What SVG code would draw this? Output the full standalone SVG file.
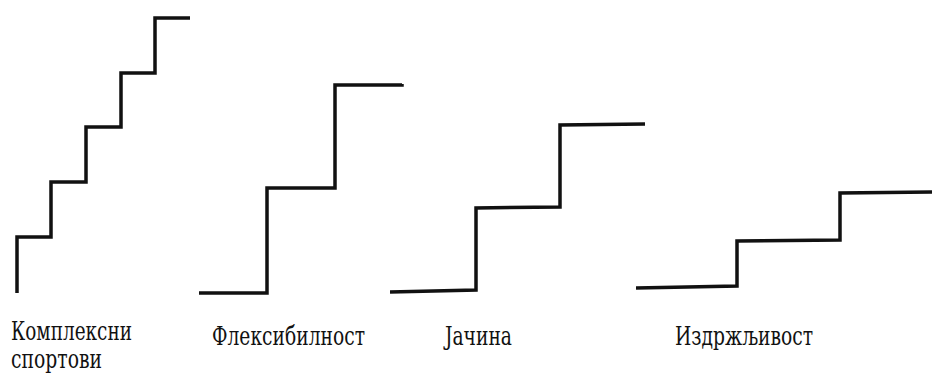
<svg xmlns="http://www.w3.org/2000/svg" width="932" height="374" viewBox="0 0 932 374">
<defs>
<style>
.step{fill:none;stroke:#111;stroke-width:3.5;stroke-linejoin:miter;stroke-linecap:butt}
.lbl{font-family:"DejaVu Serif Condensed","DejaVu Serif","Liberation Serif",serif;font-stretch:condensed;font-size:26px;fill:#111}
</style>
</defs>
<rect width="932" height="374" fill="#fff"/>
<g id="connectors">
<path class="step" d="M17,293 V237 H51 V182 H86 V127 H121 V73 H155 V18 H190"/>
<path class="step" d="M199,293 H267 V188 H335 V85 H402 V84"/>
<path class="step" d="M390,292 L476,290 V208 L560,207 V125 L645,124"/>
<path class="step" d="M636,288 L737,286 V241 L840,240 V193 L932,192"/>
</g>
<g id="label-complex">
<text class="lbl" x="11" y="340" textLength="121" lengthAdjust="spacingAndGlyphs">Комплексни</text>
<text class="lbl" x="11" y="368" textLength="91" lengthAdjust="spacingAndGlyphs">спортови</text>
</g>
<g id="label-flex"><text class="lbl" x="212" y="345" textLength="153" lengthAdjust="spacingAndGlyphs">Флексибилност</text></g>
<g id="label-strength"><text class="lbl" x="445" y="345" textLength="67" lengthAdjust="spacingAndGlyphs">Јачина</text></g>
<g id="label-endurance"><text class="lbl" x="675" y="345" textLength="138" lengthAdjust="spacingAndGlyphs">Издржљивост</text></g>
</svg>
